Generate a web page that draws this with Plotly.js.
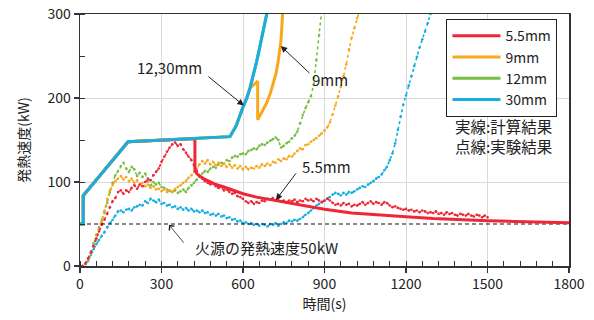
<!DOCTYPE html>
<html>
<head>
<meta charset="utf-8">
<script src="https://cdn.plot.ly/plotly-3.0.1.min.js"></script>
<style>
html,body{margin:0;padding:0;background:#fff;}
#chart{width:594px;height:320px;}
</style>
</head>
<body>
<div id="chart"></div>
<script>
// ---------- Data ----------
const seriesNames = ['5.5mm', '9mm', '12mm', '30mm'];
const heatSourceKW = 50;
const timeRange = [0, 1800];

// Calculated results (solid lines)
const calcTime55 = [0, 12, 12, 177, 423, 423, 430, 440, 455, 475, 500, 530, 564, 600, 650, 700, 750, 800, 850, 900, 1000, 1100, 1200, 1300, 1400, 1500, 1600, 1700, 1800];
const calcHRR55  = [50, 50, 84, 148, 151.4, 114, 110, 107, 104, 101, 97, 94, 90, 86, 82, 79, 76, 73, 70, 67.5, 63, 60.5, 58.5, 56.5, 55, 54, 53, 52.2, 51.6];

const calcTime9 = [0, 12, 12, 177, 552, 575, 601, 614, 626, 654, 654, 670, 687, 700, 711, 722, 730, 740, 746];
const calcHRR9  = [50, 50, 84, 148, 154, 167, 190, 200, 212, 220, 174, 183, 194, 205, 217, 230, 245, 269, 301];

const calcTime12 = [0, 12, 12, 177, 552, 575, 601, 614, 626, 638, 650, 662, 675, 690];
const calcHRR12  = [50, 50, 84, 148, 154, 167, 190, 200, 212, 226, 243, 261, 281, 304];

const calcTime30 = [0, 12, 12, 177, 552, 575, 601, 614, 626, 638, 650, 662, 675, 690];
const calcHRR30  = [50, 50, 84, 148, 154, 167, 190, 200, 212, 226, 243, 261, 281, 304];

// Experimental results (dotted), sampled every 10 s from t = 0
const expStep = 10;
const expHRR55 = [0,0,3,9,16,24,33,41,49,55,62,70,77,81,88,90,86,90,88,93,96,92,97,95,100,104,102,108,112,116,124,130,136,141,145,147,143,145,139,135,130,126,120,113,107,104,101,99,97,98,95,93,94,90,91,88,86,87,83,82,80,77,75,77,74,76,75,78,77,80,79,81,78,80,77,78,76,78,77,79,76,78,77,80,78,79,77,80,78,76,78,80,78,75,73,74,72,75,73,74,71,73,72,74,76,73,75,77,74,76,75,73,76,75,72,70,71,69,68,67,68,66,67,65,66,64,66,65,63,64,63,65,62,63,61,64,62,63,61,60,62,61,60,62,60,59,61,60,58,60,58];
const expHRR9 = [0,0,3,8,15,23,32,44,55,66,80,90,96,101,104,107,103,106,101,104,99,102,97,99,95,97,93,95,91,92,89,91,88,90,89,92,94,96,99,101,105,108,112,116,121,125,122,126,121,124,120,123,119,122,118,121,117,120,116,119,115,118,115,117,116,119,117,121,119,122,120,124,123,127,125,128,127,131,130,134,137,140,139,144,145,148,150,152,155,158,161,165,171,180,191,202,213,226,240,258,272,283,295,305];
const expHRR12 = [0,0,3,9,17,27,37,46,54,63,75,88,99,108,113,119,123,116,112,118,115,107,111,106,110,101,96,100,97,99,94,93,91,89,88,90,87,89,91,88,93,96,99,103,106,110,113,112,116,118,117,121,123,122,126,125,129,131,130,133,134,133,137,138,140,139,143,145,144,147,149,151,153,150,141,143,146,148,152,155,160,170,180,188,195,202,216,245,275,305];
const expHRR30 = [0,0,2,6,13,20,26,31,36,40,46,51,55,60,65,66,64,67,68,66,70,71,73,72,77,75,80,78,76,79,74,75,72,73,70,71,68,70,67,69,66,68,65,66,64,66,63,64,61,62,60,62,59,60,57,58,55,56,53,54,51,52,50,51,49,50,48,50,49,47,50,49,51,48,50,52,51,54,53,55,54,56,58,61,63,66,69,72,74,76,78,80,82,85,87,86,84,87,85,88,87,89,91,93,95,94,97,99,101,104,106,109,114,118,126,134,146,162,178,192,203,215,226,238,249,260,270,279,289,300,310];

// ---------- Styles ----------
const colors = {'5.5mm': '#ef2637', '9mm': '#f8a81c', '12mm': '#78be43', '30mm': '#17aee2'};
const font = 'Noto Sans CJK JP, Noto Sans, sans-serif';

function expTrace(vals, name) {
  return {
    x: vals.map((_, i) => i * expStep), y: vals, type: 'scatter', mode: 'lines+markers',
    line: {color: colors[name], width: 1.6, dash: 'dot'},
    marker: {color: colors[name], size: 2.6},
    showlegend: false, hoverinfo: 'skip'
  };
}
function calcTrace(t, v, name, rank) {
  return {
    x: t, y: v, type: 'scatter', mode: 'lines', name: name, legendrank: rank,
    line: {color: colors[name], width: 3}, hoverinfo: 'skip'
  };
}

const traces = [
  expTrace(expHRR30, '30mm'),
  expTrace(expHRR12, '12mm'),
  expTrace(expHRR9, '9mm'),
  expTrace(expHRR55, '5.5mm'),
  {x: timeRange, y: [heatSourceKW, heatSourceKW], type: 'scatter', mode: 'lines',
   line: {color: '#111', width: 1.2, dash: '4px,3px'}, showlegend: false, hoverinfo: 'skip'},
  calcTrace(calcTime12, calcHRR12, '12mm', 3),
  calcTrace(calcTime55, calcHRR55, '5.5mm', 1),
  calcTrace(calcTime9, calcHRR9, '9mm', 2),
  calcTrace(calcTime30, calcHRR30, '30mm', 4)
];

const arrowBase = {showarrow: true, text: '', axref: 'x', ayref: 'y', arrowcolor: '#222', arrowwidth: 1, arrowhead: 2, arrowsize: 1.3};
const textBase = {showarrow: false, font: {family: font, size: 15, color: '#222'}};
const noteFont = {family: font, size: 15.5, color: '#222'};

const annotations = [
  Object.assign({}, textBase, {x: 331, y: 236, text: '12,30mm'}),
  Object.assign({}, arrowBase, {x: 603, y: 191, ax: 467, ay: 227}),
  Object.assign({}, textBase, {x: 920, y: 222.6, text: '9mm'}),
  Object.assign({}, arrowBase, {x: 739, y: 262, ax: 850, ay: 228}),
  Object.assign({}, textBase, {x: 909, y: 118, text: '5.5mm'}),
  Object.assign({}, arrowBase, {x: 721, y: 78.5, ax: 799, ay: 112}),
  Object.assign({}, textBase, {x: 685, y: 22.6, text: '火源の発熱速度50kW'}),
  Object.assign({}, arrowBase, {x: 328, y: 49, ax: 386, ay: 26, arrowhead: 4, arrowwidth: 0.8, arrowsize: 1.6}),
  {showarrow: false, font: noteFont, x: 1372, y: 167, xanchor: 'left', text: '実線:計算結果'},
  {showarrow: false, font: noteFont, x: 1372, y: 143, xanchor: 'left', text: '点線:実験結果'}
];

const layout = {
  width: 594, height: 320,
  margin: {l: 80, r: 25, t: 14, b: 54},
  paper_bgcolor: '#fff', plot_bgcolor: '#fff',
  font: {family: font, size: 14, color: '#222'},
  showlegend: true,
  legend: {x: 0.749, y: 0.98, xanchor: 'left', yanchor: 'top', bgcolor: '#fff',
           bordercolor: '#222', borderwidth: 1.2, font: {family: font, size: 14, color: '#222'},
           itemwidth: 48, tracegroupgap: 0},
  xaxis: {
    range: timeRange, dtick: 300, tick0: 0, showgrid: true, gridcolor: '#d9d9d9', gridwidth: 1,
    zeroline: false, showline: true, linecolor: '#333', linewidth: 1.5, mirror: true,
    ticks: 'outside', ticklen: 5, tickcolor: '#333', tickwidth: 1.2,
    minor: {dtick: 60, ticks: 'inside', ticklen: 5, tickcolor: '#333', tickwidth: 1, showgrid: false},
    title: {text: '時間(s)', font: {family: font, size: 14, color: '#222'}, standoff: 4},
    tickfont: {family: font, size: 14, color: '#222'}
  },
  yaxis: {
    range: [0, 300], dtick: 100, tick0: 0, showgrid: true, gridcolor: '#d9d9d9', gridwidth: 1,
    zeroline: false, showline: true, linecolor: '#333', linewidth: 1.5, mirror: true,
    ticks: 'outside', ticklen: 5, tickcolor: '#333', tickwidth: 1.2,
    minor: {dtick: 50, ticks: 'inside', ticklen: 5, tickcolor: '#333', tickwidth: 1, showgrid: false},
    title: {text: '発熱速度(kW)', font: {family: font, size: 14, color: '#222'}, standoff: 14},
    tickfont: {family: font, size: 14, color: '#222'}
  },
  annotations: annotations
};

Plotly.newPlot('chart', traces, layout, {displayModeBar: false, staticPlot: true});
</script>
</body>
</html>
